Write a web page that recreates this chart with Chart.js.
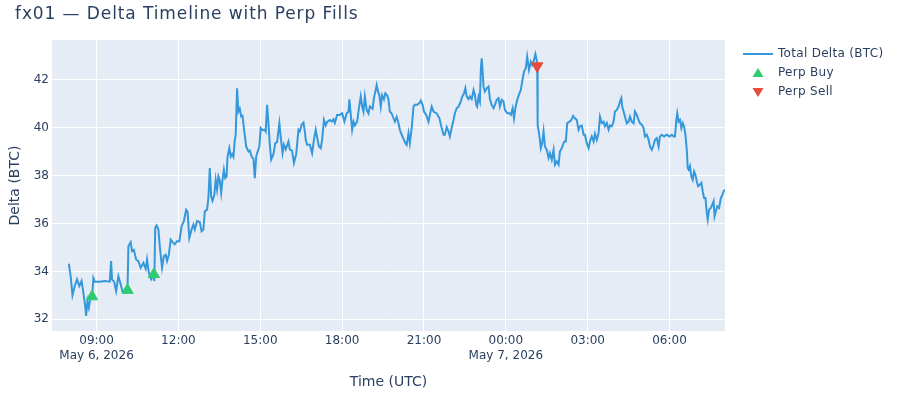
<!DOCTYPE html>
<html>
<head>
<meta charset="utf-8">
<script src="https://cdn.jsdelivr.net/npm/chart.js@4.4.1/dist/chart.umd.min.js"></script>
<style>
    html, body { margin: 0; padding: 0; background: #fff; }
</style>
</head>
<body>
<canvas id="delta-chart" width="900" height="400"></canvas>
<script>
// times are minutes after 2026-05-06 00:00 UTC
const times = [
    479, 483, 487, 492, 497, 502, 507, 511, 515, 517,
    520, 523, 526, 530, 533, 536, 547, 558, 569, 572,
    574, 579, 583, 588, 593, 597, 604, 608, 610, 615,
    618, 622, 627, 632, 637, 643, 648, 651, 655, 660,
    665, 667, 669, 672, 676, 679, 684, 688, 692, 695,
    699, 703, 708, 712, 717, 722, 727, 732, 737, 740,
    744, 749, 753, 756, 761, 767, 771, 775, 778, 783,
    786, 789, 792, 795, 799, 802, 805, 808, 811, 814,
    817, 820, 823, 826, 828, 832, 835, 838, 841, 844,
    846, 849, 852, 855, 858, 861, 864, 869, 874, 877,
    881, 885, 888, 891, 893, 898, 901, 905, 910, 912,
    915, 918, 921, 924, 929, 933, 937, 942, 945, 949,
    952, 956, 962, 965, 970, 974, 979, 984, 987, 991,
    995, 998, 1000, 1003, 1009, 1014, 1018, 1022, 1025, 1029,
    1033, 1036, 1040, 1044, 1047, 1053, 1057, 1061, 1064, 1069,
    1075, 1080, 1085, 1090, 1094, 1096, 1099, 1102, 1105, 1108,
    1113, 1117, 1121, 1124, 1127, 1130, 1134, 1138, 1141, 1147,
    1150, 1153, 1156, 1159, 1162, 1165, 1168, 1172, 1175, 1179,
    1182, 1185, 1189, 1193, 1196, 1200, 1204, 1207, 1211, 1216,
    1219, 1222, 1226, 1229, 1233, 1237, 1240, 1245, 1250, 1253,
    1257, 1260, 1265, 1270, 1273, 1277, 1281, 1288, 1294, 1299,
    1303, 1306, 1310, 1314, 1317, 1321, 1325, 1328, 1332, 1336,
    1341, 1344, 1348, 1351, 1354, 1358, 1361, 1365, 1369, 1372,
    1375, 1377, 1380, 1383, 1385, 1387, 1389, 1391, 1394, 1398,
    1402, 1405, 1409, 1413, 1416, 1420, 1424, 1427, 1431, 1435,
    1438, 1443, 1448, 1451, 1455, 1458, 1461, 1465, 1470, 1473,
    1476, 1480, 1484, 1487, 1491, 1495, 1498, 1502, 1505, 1508,
    1509, 1510, 1514, 1517, 1520, 1523, 1526, 1530, 1534, 1537,
    1541, 1545, 1548, 1552, 1556, 1559, 1563, 1567, 1569, 1572,
    1575, 1580, 1584, 1588, 1592, 1596, 1600, 1603, 1607, 1611,
    1614, 1618, 1622, 1625, 1629, 1633, 1636, 1640, 1644, 1647,
    1651, 1655, 1658, 1662, 1666, 1669, 1673, 1677, 1680, 1684,
    1688, 1691, 1694, 1696, 1699, 1702, 1706, 1710, 1713, 1717,
    1721, 1724, 1728, 1732, 1735, 1739, 1743, 1746, 1750, 1754,
    1757, 1761, 1765, 1768, 1772, 1776, 1779, 1783, 1788, 1794,
    1800, 1805, 1809, 1812, 1815, 1817, 1820, 1823, 1826, 1829,
    1832, 1835, 1838, 1840, 1842, 1845, 1848, 1851, 1854, 1857,
    1860, 1863, 1867, 1870, 1873, 1876, 1879, 1882, 1884, 1887,
    1891, 1894, 1897, 1899, 1902, 1905, 1909, 1913, 1915, 1919,
    1922
];

const totalDelta = [
    34.32, 33.8, 33.0, 33.39, 33.67, 33.39, 33.6, 33.11, 32.55, 32.14,
    32.76, 32.49, 32.83, 32.9, 33.72, 33.57, 33.57, 33.6, 33.57, 34.43,
    33.67, 33.55, 33.18, 33.8, 33.46, 33.17, 33.11, 33.2, 35.05, 35.22,
    34.85, 34.9, 34.5, 34.43, 34.15, 34.36, 34.11, 34.5, 33.94, 33.67,
    33.85, 33.6, 35.82, 35.92, 35.75, 35.05, 34.15, 34.64, 34.7, 34.43,
    34.7, 35.33, 35.2, 35.13, 35.26, 35.26, 35.89, 36.1, 36.58, 36.5,
    35.4, 35.75, 35.96, 35.75, 36.1, 36.06, 35.68, 35.75, 36.51, 36.58,
    37.07, 38.32, 37.14, 36.95, 37.2, 37.83, 37.42, 37.97, 37.8, 37.28,
    37.83, 38.25, 37.9, 37.97, 38.8, 39.15, 38.8, 38.9, 38.78, 39.5,
    39.71, 41.65, 40.68, 40.8, 40.47, 40.5, 39.99, 39.22, 39.01, 39.05,
    38.8, 38.7, 37.9, 38.8, 38.94, 39.22, 39.99, 39.9, 39.92, 39.85,
    40.96, 40.19, 39.29, 38.67, 38.9, 39.36, 39.4, 40.19, 39.6, 38.94,
    39.3, 39.1, 39.43, 39.1, 39.04, 38.53, 38.9, 39.92, 39.85, 40.13,
    40.22, 39.85, 39.5, 39.29, 39.29, 38.94, 39.5, 39.92, 39.6, 39.22,
    39.15, 39.5, 40.33, 40.1, 40.25, 40.33, 40.26, 40.36, 40.2, 40.54,
    40.54, 40.61, 40.26, 40.6, 40.68, 41.19, 40.54, 39.92, 40.26, 40.1,
    40.26, 40.82, 41.31, 40.9, 40.68, 41.31, 40.75, 40.6, 40.9, 40.8,
    41.24, 41.51, 41.79, 41.51, 41.36, 40.89, 41.36, 41.19, 41.44, 41.36,
    41.17, 40.68, 40.6, 40.4, 40.26, 40.46, 40.19, 39.92, 39.71, 39.5,
    39.36, 39.29, 39.78, 39.36, 39.99, 40.89, 40.96, 40.96, 41.03, 41.14,
    40.96, 40.68, 40.54, 40.26, 40.54, 40.89, 40.68, 40.6, 40.4, 39.99,
    39.71, 39.71, 40.03, 39.85, 39.64, 40.0, 40.33, 40.61, 40.82, 40.89,
    41.1, 41.3, 41.44, 41.65, 41.3, 41.2, 41.31, 41.2, 41.58, 41.37,
    40.96, 40.89, 41.3, 41.1, 42.42, 42.9, 42.35, 41.72, 41.51, 41.65,
    41.72, 41.2, 40.96, 40.82, 40.96, 41.17, 41.24, 40.89, 41.17, 41.1,
    40.75, 40.61, 40.61, 40.54, 40.82, 40.4, 40.82, 41.17, 41.44, 41.58,
    41.93, 42.35, 42.49, 42.97, 42.42, 42.76, 42.63, 42.83, 43.08, 42.83,
    42.6, 40.12, 39.64, 39.15, 39.36, 39.85, 39.22, 39.08, 38.74, 38.94,
    38.67, 39.08, 38.46, 38.6, 38.46, 39.01, 39.15, 39.36, 39.43, 39.43,
    40.19, 40.26, 40.33, 40.5, 40.4, 40.33, 39.92, 40.06, 40.1, 39.71,
    39.71, 39.36, 39.15, 39.43, 39.64, 39.43, 39.75, 39.5, 39.78, 40.47,
    40.2, 40.26, 40.06, 40.2, 39.92, 40.1, 40.06, 40.26, 40.68, 40.75,
    40.89, 41.1, 41.24, 40.89, 40.68, 40.47, 40.19, 40.26, 40.47, 40.26,
    40.19, 40.68, 40.54, 40.33, 40.19, 40.13, 39.99, 39.64, 39.71, 39.5,
    39.22, 39.08, 39.29, 39.5, 39.57, 39.22, 39.64, 39.71, 39.64, 39.71,
    39.64, 39.71, 39.64, 39.64, 40.33, 40.61, 40.26, 40.33, 39.99, 40.2,
    40.06, 39.71, 39.08, 38.32, 38.25, 38.4, 37.97, 37.83, 38.18, 38.04,
    37.76, 37.56, 37.63, 37.7, 37.35, 37.07, 37.07, 36.44, 36.17, 36.58,
    36.65, 36.79, 36.93, 36.3, 36.51, 36.72, 36.65, 37.07, 37.14, 37.35,
    37.42
];

// perp fills
const buyTimes = [530, 608, 666];
const buyDelta = [32.95, 33.22, 33.88];
const sellTimes = [1509];
const sellDelta = [42.58];

// axis ticks
const xTickValues = [540, 720, 900, 1080, 1260, 1440, 1620, 1800];
const xTickLabels = [['09:00', 'May 6, 2026'], '12:00', '15:00', '18:00', '21:00', ['00:00', 'May 7, 2026'], '03:00', '06:00'];
const yTickValues = [32, 34, 36, 38, 40, 42];

const xRange = [442, 1922];
const yRange = [31.51, 43.67];

const ink = '#2a3f5f';
const fontFamily = '"DejaVu Sans", Verdana, sans-serif';

const lineData = times.map((t, i) => ({ x: t, y: totalDelta[i] }));
const buyData = buyTimes.map((t, i) => ({ x: t, y: buyDelta[i] }));
const sellData = sellTimes.map((t, i) => ({ x: t, y: sellDelta[i] }));

// plot background, title, axis titles and legend
const decorPlugin = {
    id: 'decor',
    beforeDraw(chart) {
        const { ctx, chartArea } = chart;
        ctx.save();
        ctx.fillStyle = '#E5ECF6';
        ctx.fillRect(chartArea.left, chartArea.top, chartArea.right - chartArea.left, chartArea.bottom - chartArea.top);
        ctx.restore();
    },
    afterDraw(chart) {
        const { ctx, chartArea } = chart;
        ctx.save();
        ctx.fillStyle = ink;
        ctx.textBaseline = 'middle';

        //title
        ctx.font = '17px ' + fontFamily;
        ctx.letterSpacing = '0.9px';
        ctx.textAlign = 'left';
        ctx.fillText('fx01 \u2014 Delta Timeline with Perp Fills', 15, 15);
        ctx.letterSpacing = '0px';

        //axis titles
        ctx.font = '14px ' + fontFamily;
        ctx.textAlign = 'center';
        ctx.fillText('Time (UTC)', (chartArea.left + chartArea.right) / 2, 382);
        ctx.save();
        ctx.translate(15, (chartArea.top + chartArea.bottom) / 2);
        ctx.rotate(-Math.PI / 2);
        ctx.fillText('Delta (BTC)', 0, 0);
        ctx.restore();

        //legend
        ctx.font = '12px ' + fontFamily;
        ctx.letterSpacing = '0.3px';
        ctx.textAlign = 'left';
        ctx.strokeStyle = '#3498db';
        ctx.lineWidth = 2;
        ctx.beginPath();
        ctx.moveTo(743, 54);
        ctx.lineTo(773, 54);
        ctx.stroke();
        ctx.fillStyle = ink;
        ctx.fillText('Total Delta (BTC)', 778, 54);

        ctx.fillStyle = '#2ecc71';
        ctx.beginPath();
        ctx.moveTo(758, 68);
        ctx.lineTo(763.5, 77);
        ctx.lineTo(752.5, 77);
        ctx.closePath();
        ctx.fill();
        ctx.fillStyle = ink;
        ctx.fillText('Perp Buy', 778, 73);

        ctx.fillStyle = '#e74c3c';
        ctx.beginPath();
        ctx.moveTo(752.5, 88);
        ctx.lineTo(763.5, 88);
        ctx.lineTo(758, 97);
        ctx.closePath();
        ctx.fill();
        ctx.fillStyle = ink;
        ctx.fillText('Perp Sell', 778, 92);
        ctx.restore();
    }
};

const ctx = document.getElementById('delta-chart');

new Chart(ctx, {
    type: 'line',
    data: {
        datasets: [
            {
                label: 'Total Delta (BTC)',
                data: lineData,
                borderColor: '#3498db',
                borderWidth: 2,
                pointRadius: 0,
                tension: 0,
                order: 2
            },
            {
                label: 'Perp Buy',
                type: 'scatter',
                data: buyData,
                pointStyle: 'triangle',
                pointRadius: 6.5,
                backgroundColor: '#2ecc71',
                borderColor: '#2ecc71',
                borderWidth: 1,
                order: 1
            },
            {
                label: 'Perp Sell',
                type: 'scatter',
                data: sellData,
                pointStyle: 'triangle',
                rotation: 180,
                pointRadius: 6.5,
                backgroundColor: '#e74c3c',
                borderColor: '#e74c3c',
                borderWidth: 1,
                order: 1
            }
        ]
    },
    options: {
        responsive: false,
        animation: false,
        layout: { padding: { left: 0, top: 40, right: 175, bottom: 0 } },
        plugins: {
            legend: { display: false },
            tooltip: { enabled: false }
        },
        scales: {
            x: {
                type: 'linear',
                min: xRange[0],
                max: xRange[1],
                afterBuildTicks: scale => { scale.ticks = xTickValues.map(v => ({ value: v })); },
                afterFit: scale => { scale.height = 69; },
                ticks: {
                    autoSkip: false,
                    maxRotation: 0,
                    padding: 3,
                    color: ink,
                    font: { family: fontFamily, size: 12 },
                    callback: value => xTickLabels[xTickValues.indexOf(value)]
                },
                grid: { color: '#ffffff', lineWidth: 1, drawTicks: false },
                border: { display: false }
            },
            y: {
                type: 'linear',
                min: yRange[0],
                max: yRange[1],
                afterBuildTicks: scale => { scale.ticks = yTickValues.map(v => ({ value: v })); },
                afterFit: scale => { scale.width = 52; },
                ticks: {
                    padding: 3,
                    color: ink,
                    font: { family: fontFamily, size: 12 }
                },
                grid: { color: '#ffffff', lineWidth: 1, drawTicks: false },
                border: { display: false }
            }
        }
    },
    plugins: [decorPlugin]
});
</script>
</body>
</html>
